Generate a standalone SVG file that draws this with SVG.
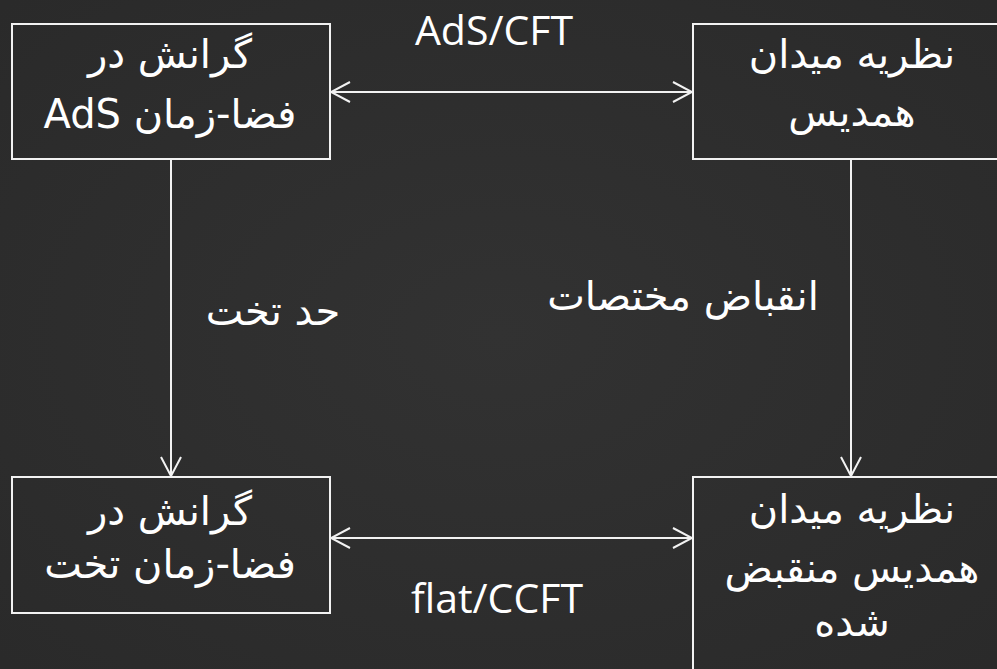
<svg xmlns="http://www.w3.org/2000/svg" width="997" height="669" viewBox="0 0 997 669">
<defs>
<style>
.box{fill:none;stroke:#f2f2f2;stroke-width:2}
.fa{font-family:"DejaVu Sans","Noto Sans",sans-serif;font-size:40px;fill:#ffffff;text-anchor:middle}
.en{font-family:"Open Sans","Liberation Sans",sans-serif;font-size:41px;fill:#ffffff;text-anchor:middle}
.edge{stroke:#f2f2f2;stroke-width:2;fill:none}
</style>
<marker id="ah" markerUnits="userSpaceOnUse" markerWidth="24" markerHeight="24" viewBox="-22 -12 24 24" refX="0" refY="0" orient="auto-start-reverse">
<path d="M-19,-10 L0,0 L-19,10" fill="none" stroke="#f2f2f2" stroke-width="2"/>
</marker>
<radialGradient id="bg" cx="50%" cy="50%" r="70%">
<stop offset="0" stop-color="#323232"/>
<stop offset="1" stop-color="#2a2a2a"/>
</radialGradient>
</defs>
<rect x="0" y="0" width="997" height="669" fill="url(#bg)"/>
<g id="connectors">
<line class="edge" x1="331" y1="92" x2="692" y2="92" marker-start="url(#ah)" marker-end="url(#ah)"/>
<line class="edge" x1="331" y1="538" x2="692" y2="538" marker-start="url(#ah)" marker-end="url(#ah)"/>
<line class="edge" x1="171" y1="160" x2="171" y2="476" marker-end="url(#ah)"/>
<line class="edge" x1="851" y1="160" x2="851" y2="476" marker-end="url(#ah)"/>
<text class="en" x="494" y="45">AdS/CFT</text>
<text class="en" x="497" y="613">flat/CCFT</text>
<text class="fa" x="273" y="325" direction="rtl">حد تخت</text>
<text class="fa" x="683" y="310" direction="rtl">انقباض مختصات</text>
</g>
<g id="node-ads">
<rect class="box" x="12" y="24" width="318" height="135"/>
<text class="fa" x="170" y="68" direction="rtl">گرانش در</text>
<text class="fa" x="170" y="128" direction="rtl">فضا-زمان AdS</text>
</g>
<g id="node-cft">
<rect class="box" x="693" y="24" width="320" height="135"/>
<text class="fa" x="852" y="68" direction="rtl">نظریه میدان</text>
<text class="fa" x="852" y="126" direction="rtl">همدیس</text>
</g>
<g id="node-flat">
<rect class="box" x="12" y="477" width="318" height="136"/>
<text class="fa" x="170" y="525" direction="rtl">گرانش در</text>
<text class="fa" x="170" y="578" direction="rtl">فضا-زمان  تخت</text>
</g>
<g id="node-ccft">
<rect class="box" x="693" y="477" width="320" height="200"/>
<text class="fa" x="852" y="523" direction="rtl">نظریه میدان</text>
<text class="fa" x="852" y="582" direction="rtl">همدیس منقبض</text>
<text class="fa" x="852" y="636" direction="rtl">شده</text>
</g>
</svg>
